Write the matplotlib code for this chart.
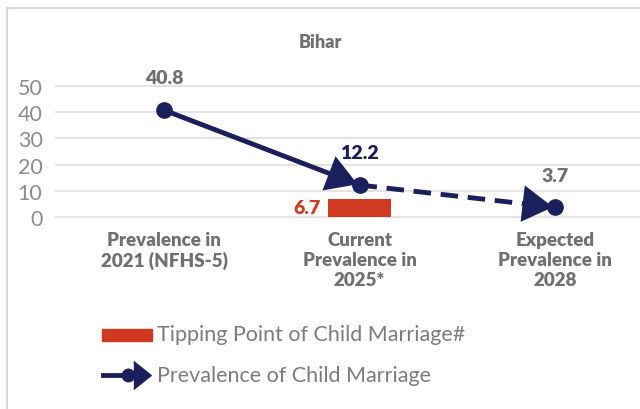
import matplotlib
matplotlib.use("Agg")
import matplotlib.pyplot as plt
import numpy as np
from matplotlib.patches import Rectangle
from matplotlib.lines import Line2D

plt.rcParams['font.family'] = ['Lato', 'DejaVu Sans']

# data
categories = ["Prevalence in\n2021 (NFHS-5)", "Current\nPrevalence in\n2025*", "Expected\nPrevalence in\n2028"]
prevalence = [40.8, 12.2, 3.7]
tipping_point = 6.7
tipping_idx = 1
yticks = [0, 10, 20, 30, 40, 50]

navy = "#1b1f5b"
red = "#d13a22"
gray = "#707070"
light_gray = "#8c8c8c"

W, H = 640, 410
fig = plt.figure(figsize=(6.4, 4.1), dpi=100)

# outer frame
fig.add_artist(Rectangle((7 / W, -0.05), 1.1, 1 - 9 / H + 0.05, transform=fig.transFigure,
                         fill=False, edgecolor="#d9d9d9", lw=1.5))

# axes: y=0 at px 218, y=50 at px 87; x=0 at px 164, x=2 at px 555
top_px, bot_px = 60, 232
ax = fig.add_axes([55 / W, 1 - bot_px / H, 1 - 55 / W, (bot_px - top_px) / H])
ppu = (218 - 87) / 50
ax.set_ylim((218 - bot_px) / ppu, (218 - top_px) / ppu)
xppu = (555 - 164) / 2
ax.set_xlim((55 - 164) / xppu, (640 - 164) / xppu)

x = np.arange(len(prevalence))
ax.set_yticks(yticks)
ax.set_yticklabels([str(t) for t in yticks], fontsize=15.5, color=light_gray)
ax.tick_params(axis="y", length=0, pad=9)
ax.set_xticks([])
for s in ax.spines.values():
    s.set_visible(False)
ax.grid(axis="y", color="#e3e3e3", lw=1.5)
ax.set_axisbelow(True)

# tipping point bar
ax.bar(x[tipping_idx], tipping_point, width=0.32, color=red, zorder=2)
ax.text(x[tipping_idx] - 0.2, tipping_point / 2 + 0.3, f"{tipping_point}", color=red,
        fontsize=14, fontweight="heavy", ha="right", va="center")

# prevalence line
ax.plot(x[:2], prevalence[:2], color=navy, lw=3.5, zorder=3, solid_capstyle="butt")
ax.plot(x[1:], prevalence[1:], color=navy, lw=3.5, ls=(0, (3.6, 2.0)), zorder=3)
ax.plot(x, prevalence, "o", color=navy, ms=11, zorder=4)
for i in (1, 2):
    x0, y0 = x[i - 1], prevalence[i - 1]
    x1, y1 = x[i], prevalence[i]
    ax.annotate("", xy=(x1 - 0.01, y1 + (y0 - y1) * 0.01 / (x1 - x0)),
                xytext=(x1 - 0.12, y1 + (y0 - y1) * 0.12 / (x1 - x0)),
                arrowprops=dict(arrowstyle="-|>,head_length=1.0,head_width=0.6", color=navy,
                                lw=0, mutation_scale=22, shrinkA=0, shrinkB=0), zorder=5)

label_colors = [gray, navy, gray]
for xi, v, c in zip(x, prevalence, label_colors):
    ax.annotate(f"{v}", (xi, v), xytext=(0, 17), textcoords="offset points", ha="center",
                va="bottom", fontsize=14, fontweight="heavy", color=c)

# category labels
for xi, lab in zip(x, categories):
    ax.text(xi, (218 - 232) / ppu, lab, ha="center", va="top", fontsize=13.5,
            fontweight="heavy", color=gray, linespacing=1.2)

fig.text(320 / W, 1 - 42 / H, "Bihar", ha="center", va="center", fontsize=13,
         fontweight="heavy", color=gray)

# legend
fig.add_artist(Rectangle((102 / W, 1 - 342 / H), 50 / W, 12 / H, transform=fig.transFigure,
                         color=red))
fig.text(157 / W, 1 - 335 / H, "Tipping Point of Child Marriage#", ha="left", va="center",
         fontsize=15.5, color="#7c7c7c")
ly = 1 - 376 / H
arrow_marker = [(-1, -1.6), (1, 0), (-1, 1.6)]
fig.add_artist(Line2D([103 / W, 128 / W], [ly, ly], transform=fig.transFigure, color=navy, lw=3.5))
fig.add_artist(Line2D([128 / W], [ly], transform=fig.transFigure, marker="o", ms=9, color=navy))
fig.add_artist(Line2D([142 / W], [ly], transform=fig.transFigure, marker=arrow_marker, ms=20,
                      color=navy))
fig.text(157 / W, ly, "Prevalence of Child Marriage", ha="left", va="center",
         fontsize=15.5, color="#7c7c7c")

fig.savefig("out.png", dpi=100)
